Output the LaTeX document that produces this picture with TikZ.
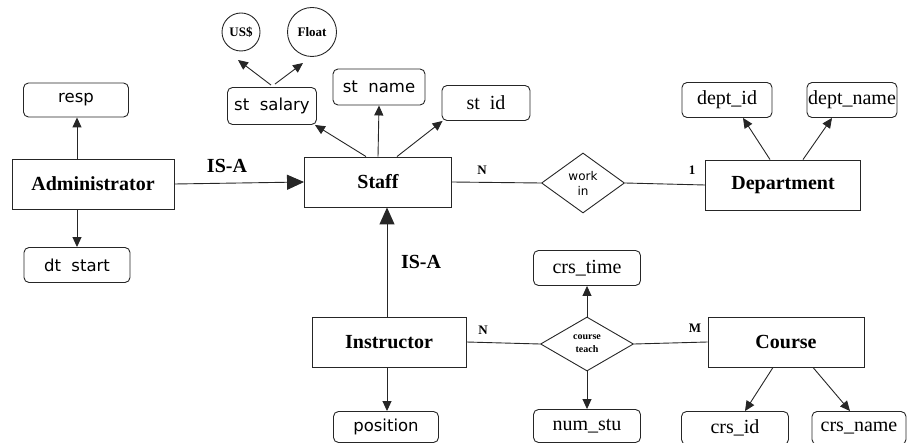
\documentclass[tikz,border=0pt]{standalone}
\usepackage{fontspec}
\setmainfont{Liberation Serif}
\newfontfamily\attrsans{DejaVu Sans}
\usetikzlibrary{arrows.meta,shapes.geometric,calc}
\tikzset{
  ink/.style={draw=black!85, line width=0.9pt},
  entity/.style={ink, rectangle, minimum height=50pt, inner sep=0pt, font=\fontsize{20}{22}\selectfont\bfseries},
  attr/.style={ink, rectangle, rounded corners=5pt, minimum height=35pt, inner sep=0pt},
  attrserif/.style={attr, font=\fontsize{20}{22}\selectfont},
  attrsan/.style={attr, font=\attrsans\fontsize{16.5}{18}\selectfont},
  rel/.style={ink, diamond, inner sep=0pt, align=center},
  val/.style={ink, circle, inner sep=0pt, font=\fontsize{13}{15}\selectfont\bfseries},
  conn/.style={ink},
  arr/.style={ink, -{Triangle[length=10pt,width=9pt]}},
  isa/.style={ink, -{Triangle[length=17pt,width=15pt]}},
  card/.style={font=\fontsize{13}{15}\selectfont\bfseries},
  isalab/.style={font=\fontsize{20}{22}\selectfont\bfseries}
}
\begin{document}
\begin{tikzpicture}[x=1pt,y=-1pt]
\useasboundingbox (0,0) rectangle (907,443);
% entities
\node[entity, minimum width=162pt] (admin) at (93,184) {Administrator};
\node[entity, minimum width=147pt] (staff) at (378,182) {Staff};
\node[entity, minimum width=155pt] (dept) at (783,185) {Department};
\node[entity, minimum width=154pt] (instr) at (389,342) {Instructor};
\node[entity, minimum width=156pt] (course) at (786,342) {Course};
% relationships
\node[rel, minimum width=83pt, minimum height=60pt, font=\attrsans\fontsize{12}{15}\selectfont] (workin) at (583,183) {work\\in};
\node[rel, minimum width=93pt, minimum height=54pt, font=\fontsize{10}{13}\selectfont\bfseries] (teach) at (587,344) {course\\teach};
% attributes
\node[attrsan, minimum width=105pt, minimum height=34pt] (resp) at (76,100) {resp};
\node[attrsan, minimum width=106pt] (dtstart) at (77,265) {dt\ \ start};
\node[attrsan, minimum width=89pt, minimum height=37pt] (sal) at (272,106) {st\ \ salary};
\node[attrsan, minimum width=92pt, minimum height=36pt] (stname) at (379,87) {st\ \ name};
\node[attrserif, minimum width=88pt] (stid) at (486,103) {st\ \ id};
\node[attrserif, minimum width=90pt] (deptid) at (727,100) {dept\_id};
\node[attrserif, minimum width=90pt] (deptname) at (852,100) {dept\_name};
\node[attrserif, minimum width=107pt] (crstime) at (587,268) {crs\_time};
\node[attrsan, minimum width=105pt, minimum height=31pt] (position) at (386,427) {position};
\node[attrserif, minimum width=107pt, minimum height=33pt] (numstu) at (587,426) {num\_stu};
\node[attrserif, minimum width=107pt, minimum height=33pt] (crsid) at (735,428) {crs\_id};
\node[attrserif, minimum width=94pt, minimum height=33pt] (crsname) at (859,428) {crs\_name};
% value circles
\node[val, minimum size=38pt] (usd) at (241,32) {US\$};
\node[val, minimum size=49pt] (float) at (312,32) {Float};
\coordinate (usdtip) at (238,60);
\coordinate (floattip) at (303,63);
% connectors
\draw[arr] ($(sal.north)+(-1,-2)$) -- (usdtip);
\draw[arr] ($(sal.north)+(3,-3)$) -- (floattip);
\draw[arr] ($(staff.north)+(-12,0)$) -- ($(sal.south east)+(-2,0)$);
\draw[arr] (staff.north) -- (stname.south);
\draw[arr] ($(staff.north)+(19,0)$) -- ($(stid.south west)+(1,0)$);
\draw[arr] ($(admin.north)+(-16,0)$) -- ($(resp.south)+(1,0)$);
\draw[arr] ($(admin.south)+(-16,0)$) -- (dtstart.north);
\draw[isa] (admin.east) -- (staff.west);
\draw[isa] ($(instr.north)+(-2,0)$) -- ($(staff.south)+(9,0)$);
\draw[arr] ($(instr.south)+(-2,0)$) -- ($(position.north)+(1,0)$);
\draw[conn] (staff.east) -- (workin.west);
\draw[conn] (workin.east) -- (dept.west);
\draw[arr] ($(dept.north)+(-13,0)$) -- ($(deptid.south)+(16,0)$);
\draw[arr] ($(dept.north)+(20,0)$) -- ($(deptname.south)+(-20,0)$);
\draw[conn] (instr.east) -- (teach.west);
\draw[conn] (teach.east) -- (course.west);
\draw[arr] (teach.north) -- (crstime.south);
\draw[arr] (teach.south) -- (numstu.north);
\draw[arr] ($(course.south)+(-13,0)$) -- ($(crsid.north)+(10,0)$);
\draw[arr] ($(course.south)+(27,0)$) -- ($(crsname.north)+(-9,0)$);
% labels
\node[isalab] (isa1) at (227,166) {IS-A};
\node[isalab] (isa2) at (421,262) {IS-A};
\node[card] (n1) at (482,170) {N};
\node[card] (one) at (692,170) {1};
\node[card] (n2) at (483,330) {N};
\node[card] (m1) at (695,328) {M};
\end{tikzpicture}
\end{document}
